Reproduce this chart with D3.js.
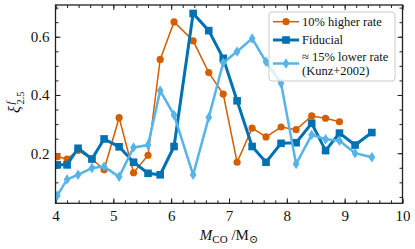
<!DOCTYPE html>
<html>
<head>
<meta charset="utf-8">
<script src="https://cdn.jsdelivr.net/npm/d3@7.9.0/dist/d3.min.js"></script>
<style>
  body { margin: 0; background: #fff; }
  svg { display: block; font-family: "Liberation Serif", "DejaVu Serif", serif; }
</style>
</head>
<body>
<svg id="chart" width="415" height="249"></svg>
<script>
// CO core masses (shared by all runs)
const mco = [4.03, 4.2, 4.39, 4.63, 4.84, 5.1, 5.35, 5.6, 5.81, 6.05, 6.38, 6.65,
             6.9, 7.14, 7.4, 7.64, 7.9, 8.16, 8.43, 8.67, 8.91, 9.18, 9.47];

// compactness xi_2.5 for each rate
const higherRate = [0.188, 0.18, 0.21, 0.18, 0.143, 0.322, 0.133, 0.193, 0.522, 0.651, 0.586,
                    0.477, 0.403, 0.169, 0.286, 0.256, 0.29, 0.281, 0.328, 0.32, 0.308];
const fiducial = [0.16, 0.16, 0.217, 0.18, 0.249, 0.222, 0.169, 0.131, 0.126, 0.223, 0.68,
                  0.621, 0.526, 0.38, 0.223, 0.169, 0.234, 0.236, 0.303, 0.209, 0.269, 0.228, 0.271];
const lowerRate = [0.054, 0.11, 0.126, 0.149, 0.154, 0.119, 0.22, 0.228, 0.415, 0.331, 0.126,
                   0.323, 0.511, 0.549, 0.594, 0.514, 0.44, 0.163, 0.263, 0.248, 0.243, 0.2, 0.186];

const xTicks = [4, 5, 6, 7, 8, 9, 10];
const yTicks = [0.2, 0.4, 0.6];

const series = [
  { name: ["10% higher rate"], values: higherRate, color: "#D55E00", width: 1.5, marker: "circle" },
  { name: ["Fiducial"], values: fiducial, color: "#0072B2", width: 3, marker: "square" },
  { name: ["\u2248 15% lower rate", "(Kunz+2002)"], values: lowerRate, color: "#56B4E9", width: 2.5, marker: "diamond" }
];

const svg = d3.select("#chart");
const pLeft = 55.5, pRight = 402.5, pTop = 5, pBottom = 203.3;

const x = d3.scaleLinear().domain([4, 10]).range([pLeft, pRight]);
const y = d3.scaleLinear().domain([0.028, 0.709]).range([pBottom, pTop]);

const ink = "#222";
const fontTick = 15;

// ticks, inward on all four sides
function tickAxis(axis, transform, size, values, labels) {
  const g = svg.append("g").attr("transform", transform)
    .call(axis.tickValues(values).tickSize(size).tickPadding(labels ? 7 : 0)
      .tickFormat(labels ? d3.format("") : ""));
  g.select(".domain").remove();
  g.selectAll("line").attr("stroke", ink).attr("stroke-width", 1);
  g.selectAll("text").attr("font-size", fontTick).attr("fill", "#111")
    .style("font-family", "Liberation Serif");
  return g;
}
const xMinor = d3.range(4, 10.001, 0.2).map(d => +d.toFixed(1));
const yMinor = d3.range(0.05, 0.701, 0.05).map(d => +d.toFixed(2));

const gxb = tickAxis(d3.axisBottom(x), `translate(0,${pBottom})`, -5, xTicks, true);
gxb.selectAll("text").attr("dy", "0.71em").attr("y", 7);
tickAxis(d3.axisBottom(x), `translate(0,${pBottom})`, -3, xMinor, false);
tickAxis(d3.axisTop(x), `translate(0,${pTop})`, -5, xTicks, false);
tickAxis(d3.axisTop(x), `translate(0,${pTop})`, -3, xMinor, false);
const gyl = tickAxis(d3.axisLeft(y), `translate(${pLeft},0)`, -5, yTicks, true);
gyl.selectAll("text").attr("x", -6);
tickAxis(d3.axisLeft(y), `translate(${pLeft},0)`, -3, yMinor, false);
tickAxis(d3.axisRight(y), `translate(${pRight},0)`, -5, yTicks, false);
tickAxis(d3.axisRight(y), `translate(${pRight},0)`, -3, yMinor, false);

// clip for data
svg.append("clipPath").attr("id", "plotclip").append("rect")
  .attr("x", pLeft).attr("y", pTop).attr("width", pRight - pLeft).attr("height", pBottom - pTop);

const plot = svg.append("g").attr("clip-path", "url(#plotclip)");

function drawMarker(sel, type, color) {
  if (type === "circle") {
    sel.append("circle").attr("r", 3.6).attr("fill", color);
  } else if (type === "square") {
    sel.append("rect").attr("x", -3.8).attr("y", -3.8).attr("width", 7.6).attr("height", 7.6).attr("fill", color);
  } else {
    sel.append("path").attr("d", "M0,-5.2L3.4,0L0,5.2L-3.4,0Z").attr("fill", color);
  }
}

const line = d3.line().x(d => x(d[0])).y(d => y(d[1]));

series.forEach(s => {
  const pts = s.values.map((v, i) => [mco[i], v]);
  plot.append("path").datum(pts).attr("d", line)
    .attr("fill", "none").attr("stroke", s.color).attr("stroke-width", s.width)
    .attr("stroke-linejoin", "miter");
  plot.selectAll(null).data(pts).enter().append("g")
    .attr("transform", d => `translate(${x(d[0])},${y(d[1])})`)
    .each(function () { drawMarker(d3.select(this), s.marker, s.color); });
});

// frame
svg.append("rect").attr("x", pLeft).attr("y", pTop)
  .attr("width", pRight - pLeft).attr("height", pBottom - pTop)
  .attr("fill", "none").attr("stroke", ink).attr("stroke-width", 1.3);

// legend
const leg = svg.append("g");
leg.append("rect").attr("x", 269).attr("y", 12).attr("width", 126).attr("height", 69)
  .attr("rx", 3).attr("fill", "#fff").attr("fill-opacity", 0.8)
  .attr("stroke", "#ccc").attr("stroke-width", 1);
const rowY = [21.7, 40, 63.5];
series.forEach((s, i) => {
  const yy = rowY[i];
  leg.append("line").attr("x1", 273).attr("x2", 299).attr("y1", yy).attr("y2", yy)
    .attr("stroke", s.color).attr("stroke-width", s.width);
  drawMarker(leg.append("g").attr("transform", `translate(286,${yy})`), s.marker, s.color);
  const t = leg.append("text").attr("x", 302).attr("font-size", 12.5).attr("fill", "#111");
  if (s.name.length === 1) {
    t.attr("y", yy + 4.3).text(s.name[0]);
  } else {
    t.append("tspan").attr("x", 302).attr("y", yy - 2.6).text(s.name[0]);
    t.append("tspan").attr("x", 302).attr("y", yy + 11.2).text(s.name[1]);
  }
});

// x label: M_CO / M_sun
const xl = svg.append("text").attr("x", 229).attr("y", 240).attr("text-anchor", "middle")
  .attr("font-size", 15).attr("fill", "#111");
xl.append("tspan").attr("font-style", "italic").text("M");
xl.append("tspan").attr("font-size", 11).attr("dy", 3).text("CO");
xl.append("tspan").attr("dy", -3).text(" /M");
xl.append("tspan").attr("font-size", 11).attr("dy", 3).text("\u2299");

// y label: xi^f_2.5
const yl = svg.append("g").attr("transform", "translate(20,106) rotate(-90)").attr("fill", "#111");
yl.append("text").attr("x", -7).attr("y", 0).attr("font-size", 16).attr("font-style", "italic").text("\u03BE");
yl.append("text").attr("x", 1.5).attr("y", -6).attr("font-size", 10.5).attr("font-style", "italic").text("f");
yl.append("text").attr("x", 1.5).attr("y", 4).attr("font-size", 10.5).text("2.5");
</script>
</body>
</html>
